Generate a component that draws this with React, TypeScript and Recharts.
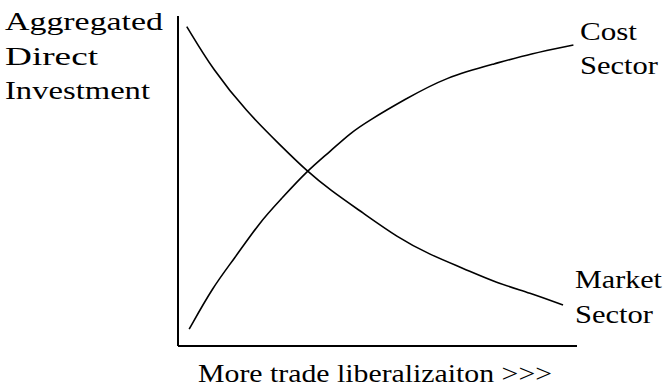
import React from "react";
import { LineChart, Line, XAxis, YAxis, Customized } from "recharts";

// x = trade liberalization (0..100), y = aggregated direct investment (0..100)
const marketSector = [
  { x: 2.2, y: 96.8 },
  { x: 8.8, y: 83.6 },
  { x: 17.2, y: 71.0 },
  { x: 25.6, y: 60.9 },
  { x: 32.3, y: 53.0 },
  { x: 38.1, y: 47.3 },
  { x: 46.4, y: 40.3 },
  { x: 54.9, y: 33.0 },
  { x: 63.2, y: 27.6 },
  { x: 71.4, y: 23.6 },
  { x: 79.9, y: 19.1 },
  { x: 88.2, y: 16.1 },
  { x: 96.5, y: 12.4 },
];

const costSector = [
  { x: 2.8, y: 5.1 },
  { x: 8.8, y: 18.0 },
  { x: 13.9, y: 26.1 },
  { x: 20.6, y: 37.7 },
  { x: 25.6, y: 44.2 },
  { x: 32.3, y: 53.0 },
  { x: 38.1, y: 58.9 },
  { x: 43.1, y: 64.5 },
  { x: 48.1, y: 68.5 },
  { x: 56.5, y: 74.5 },
  { x: 67.3, y: 81.6 },
  { x: 79.9, y: 85.7 },
  { x: 88.2, y: 88.5 },
  { x: 99.1, y: 91.2 },
];

const yTitle = ["Aggregated", "Direct", "Investment"];
const xTitle = "More trade liberalizaiton >>>";
const costLabel = ["Cost", "Sector"];
const marketLabel = ["Market", "Sector"];

const font = "'Liberation Serif', 'Times New Roman', serif";

function Texts() {
  const t = (s: string, x: number, y: number, w: number) => (
    <text
      key={s + y}
      x={x}
      y={y}
      fontFamily={font}
      fontSize={26}
      fill="#000"
      textLength={w}
      lengthAdjust="spacingAndGlyphs"
    >
      {s}
    </text>
  );
  return (
    <g>
      {t(yTitle[0], 5, 30, 158)}
      {t(yTitle[1], 5, 65, 93)}
      {t(yTitle[2], 5, 99, 145)}
      {t(xTitle, 198, 382, 354)}
      {t(costLabel[0], 580, 40, 57)}
      {t(costLabel[1], 580, 74, 78)}
      {t(marketLabel[0], 575, 288, 87)}
      {t(marketLabel[1], 575, 323, 78)}
    </g>
  );
}

export default function App() {
  return (
    <div style={{ position: "absolute", left: 0, top: 0, width: 665, height: 387, background: "#fff" }}>
      <LineChart
        width={665}
        height={387}
        margin={{ top: 16, right: 88, bottom: 40, left: 177 }}
      >
        <XAxis
          type="number"
          dataKey="x"
          domain={[0, 100]}
          tick={false}
          tickLine={false}
          height={1}
          axisLine={{ stroke: "#000", strokeWidth: 2 }}
        />
        <YAxis
          type="number"
          dataKey="y"
          domain={[0, 100]}
          tick={false}
          tickLine={false}
          width={1}
          axisLine={{ stroke: "#000", strokeWidth: 2 }}
        />
        <Line
          data={marketSector}
          dataKey="y"
          type="basis"
          stroke="#000"
          strokeWidth={1.6}
          dot={false}
          isAnimationActive={false}
        />
        <Line
          data={costSector}
          dataKey="y"
          type="basis"
          stroke="#000"
          strokeWidth={1.6}
          dot={false}
          isAnimationActive={false}
        />
        <Customized component={Texts} />
      </LineChart>
    </div>
  );
}
